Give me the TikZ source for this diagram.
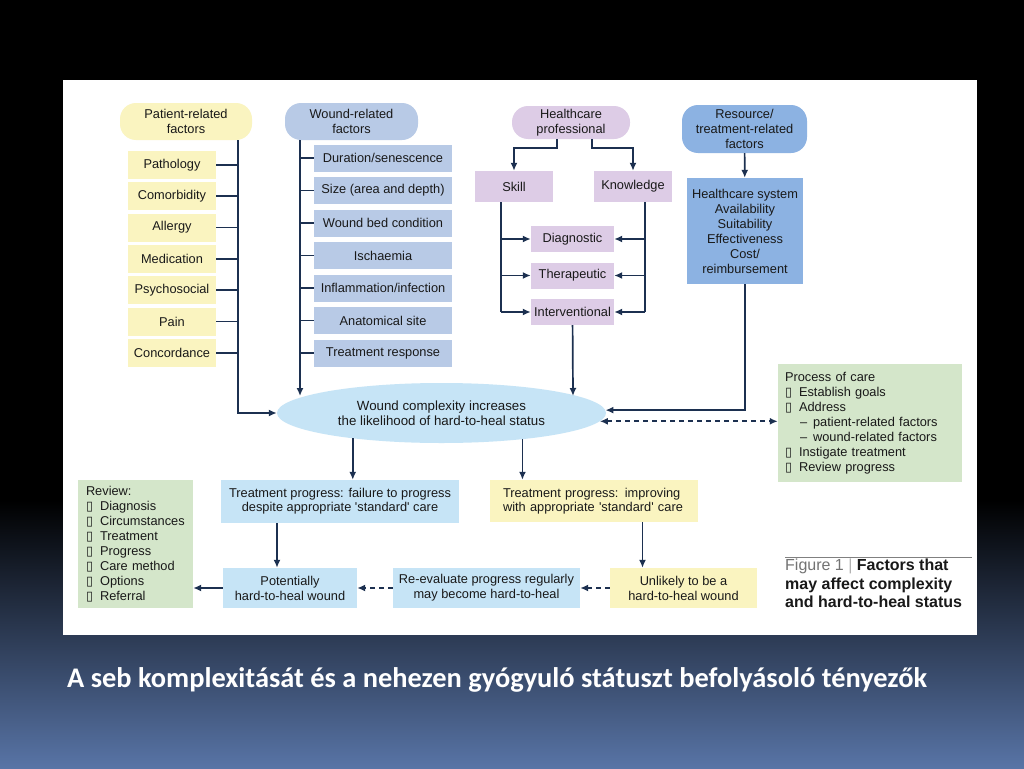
\documentclass[tikz,border=0pt]{standalone}
\usepackage{fontspec}
\setmainfont{Liberation Sans}
\newfontfamily\carlito{Carlito}
\newfontfamily\dejavu{DejaVu Sans}
\usepackage{xcolor}
\usetikzlibrary{calc, shapes.geometric, positioning, arrows.meta}

\definecolor{ylw}{RGB}{250,244,192}
\definecolor{wblue}{RGB}{184,202,230}
\definecolor{lav}{RGB}{221,204,230}
\definecolor{rblue}{RGB}{140,178,226}
\definecolor{lblue}{RGB}{198,228,246}
\definecolor{grn}{RGB}{212,230,202}
\definecolor{navy}{RGB}{28,48,80}
\definecolor{txt}{RGB}{25,25,25}
\definecolor{slate}{RGB}{88,116,166}

\newcommand{\bx}{{\dejavu\char"25AF}}
\newcommand{\sq}{\textquotesingle}

\tikzset{
  cbox/.style={fill=#1, text=txt, inner sep=2pt, align=center,
    font=\fontsize{12.8}{15}\selectfont},
  pill/.style={cbox=#1, rounded corners=16pt},
  arr/.style={->, draw=navy, line width=1.7pt},
  bus/.style={draw=navy, line width=1.7pt},
  dsh/.style={dash pattern=on 5pt off 4pt},
}

\begin{document}
\begin{tikzpicture}[x=1pt, y=-1pt, >={Latex[length=8pt,width=7pt]}]
    % 1. Slide background and white panel
    \useasboundingbox (0,0) rectangle (1024,768);
    \fill[black] (0,0) rectangle (1024,501);
    \shade[top color=black, bottom color=slate] (0,500) rectangle (1024,768);
    \fill[white] (63,80) rectangle (977,635);

    % 2. Patient-related factors
    \node[pill=ylw, minimum width=132pt, minimum height=37pt] (pat) at (186,121.5) {Patient-related\\factors};
    \foreach \n/\t [count=\i from 0] in {p1/Pathology, p2/Comorbidity, p3/Allergy,
        p4/Medication, p5/Psychosocial, p6/Pain, p7/Concordance} {
        \node[cbox=ylw, minimum width=88pt, minimum height=28pt] (\n) at (172,{165+31.3*\i}) {\t};
    }

    % 3. Wound-related factors
    \node[pill=wblue, minimum width=133pt, minimum height=37pt] (wnd) at (351.5,121.5) {Wound-related\\factors};
    \foreach \n/\t [count=\i from 0] in {w1/{Duration/senescence}, w2/Size (area and depth),
        w3/Wound bed condition, w4/Ischaemia, w5/{Inflammation/infection},
        w6/Anatomical site, w7/Treatment response} {
        \node[cbox=wblue, minimum width=138pt, minimum height=27pt] (\n) at (383,{158+32.5*\i}) {\t};
    }

    % 4. Healthcare professional
    \node[pill=lav, minimum width=118pt, minimum height=33pt] (hc) at (571,122.5) {Healthcare\\professional};
    \node[cbox=lav, minimum width=78pt, minimum height=31pt] (skill) at (514,186.5) {Skill};
    \node[cbox=lav, minimum width=78pt, minimum height=31pt] (know) at (633,186.5) {Knowledge};
    \node[cbox=lav, minimum width=83pt, minimum height=26pt] (diag) at (572.5,239) {Diagnostic};
    \node[cbox=lav, minimum width=83pt, minimum height=26pt] (ther) at (572.5,275.5) {Therapeutic};
    \node[cbox=lav, minimum width=83pt, minimum height=26pt] (intv) at (572.5,312) {Interventional};

    % 5. Resource/treatment-related factors
    \node[pill=rblue, minimum width=125pt, minimum height=48pt] (res) at (744.5,129) {Resource/\\treatment-related\\factors};
    \node[cbox=rblue, minimum width=116pt, minimum height=106pt] (hsys) at (745,231)
        {Healthcare system\\Availability\\Suitability\\Effectiveness\\Cost/\\reimbursement};

    % 6. Central ellipse and process of care
    \node[ellipse, fill=lblue, text=txt, align=center, inner sep=0pt, minimum width=329pt,
        minimum height=60pt, font=\fontsize{13.3}{15.5}\selectfont] (cx) at (441.5,413)
        {Wound complexity increases\\the likelihood of hard-to-heal status};
    \node[cbox=grn, align=left, inner xsep=7pt, text width=170pt, minimum height=118pt] (proc) at (870,423)
        {Process of care\\
         \bx\hspace{7pt}Establish goals\\
         \bx\hspace{7pt}Address\\
         \hspace{15pt}--\hspace{6pt}patient-related factors\\
         \hspace{15pt}--\hspace{6pt}wound-related factors\\
         \bx\hspace{7pt}Instigate treatment\\
         \bx\hspace{7pt}Review progress};

    % 7. Treatment progress
    \node[cbox=lblue, minimum width=238pt, minimum height=43pt, font=\fontsize{12.8}{14}\selectfont] (fail) at (340,501.5)
        {Treatment progress: failure to progress\\despite appropriate \sq standard\sq{} care};
    \node[cbox=ylw, align=left, inner xsep=13pt, text width=182pt, minimum height=42pt,
        font=\fontsize{12.8}{14}\selectfont] (impr) at (594,501)
        {Treatment progress: improving\\with appropriate \sq standard\sq{} care};

    % 8. Bottom row
    \node[cbox=grn, align=left, inner xsep=8pt, text width=99pt, minimum height=128pt] (rev) at (135.5,544)
        {Review:\\
         \bx\hspace{7pt}Diagnosis\\
         \bx\hspace{7pt}Circumstances\\
         \bx\hspace{7pt}Treatment\\
         \bx\hspace{7pt}Progress\\
         \bx\hspace{7pt}Care method\\
         \bx\hspace{7pt}Options\\
         \bx\hspace{7pt}Referral};
    \node[cbox=lblue, minimum width=134pt, minimum height=40pt] (pot) at (290,588) {Potentially\\hard-to-heal wound};
    \node[cbox=lblue, minimum width=187pt, minimum height=40pt] (reev) at (486.5,588) {Re-evaluate progress regularly\\may become hard-to-heal};
    \node[cbox=ylw, minimum width=147pt, minimum height=40pt] (unl) at (683.5,588) {Unlikely to be a\\hard-to-heal wound};

    % 9. Connectors
    \coordinate (pbus) at (238,140);
    \foreach \n in {p1,p2,p3,p4,p5,p6,p7} \draw[bus] (\n.east) -- (\n.east -| pbus);
    \draw[arr] (pbus) |- (cx.west);

    \coordinate (wbus) at (300,140);
    \coordinate (wend) at (300,396);
    \foreach \n in {w1,w2,w3,w4,w5,w6,w7} \draw[bus] (\n.west) -- (\n.west -| wbus);
    \draw[arr] (wbus) -- (wend);

    \draw[arr] ([xshift=-14pt]hc.south) -- ++(0,9) -| (skill);
    \draw[arr] ([xshift=21pt]hc.south) -- ++(0,9) -| (know);
    \coordinate (sbus) at (501,202);
    \coordinate (kbus) at (645,202);
    \draw[bus] (sbus) -- (sbus |- intv);
    \draw[bus] (kbus) -- (kbus |- intv);
    \foreach \n in {diag,ther,intv} {
        \draw[arr] (sbus |- \n) -- (\n.west);
        \draw[arr] (kbus |- \n) -- (\n.east);
    }
    \coordinate (iend) at (573,396);
    \draw[arr] (intv) -- (iend);

    \draw[arr] (res) -- (hsys);
    \draw[arr] (hsys) |- (cx.1);
    \draw[arr, <->, dsh] (cx.-3) -- (cx.-3 -| proc.west);

    \draw[arr] (cx.196) -- (cx.196 |- fail.north);
    \draw[arr] (cx.342) -- (cx.342 |- impr.north);
    \draw[arr] ([xshift=-13pt]pot.north |- fail.south) -- ([xshift=-13pt]pot.north);
    \draw[arr] ([xshift=-41pt]unl.north |- impr.south) -- ([xshift=-41pt]unl.north);
    \draw[arr] (pot.west) -- (pot.west -| rev.east);
    \draw[arr, dsh] (reev) -- (pot);
    \draw[arr, dsh] (unl) -- (reev);

    % 10. Figure caption and slide title
    \draw[gray, line width=0.8pt] (785,557) -- (972,557);
    \node[anchor=north west, align=left, inner sep=0pt, text=txt,
        font=\fontsize{16}{18.3}\selectfont] (fig) at (785,559)
        {{\color{gray!90!black}Figure 1 {\color{gray!60}|}} \textbf{Factors that}\\
         \textbf{may affect complexity}\\\textbf{and hard-to-heal status}};
    \node[anchor=west, inner sep=0pt, text=white, font=\carlito\bfseries\fontsize{28.4}{32}\selectfont] (title) at (67,680)
        {A seb komplexitását és a nehezen gyógyuló státuszt befolyásoló tényezők};
\end{tikzpicture}
\end{document}
